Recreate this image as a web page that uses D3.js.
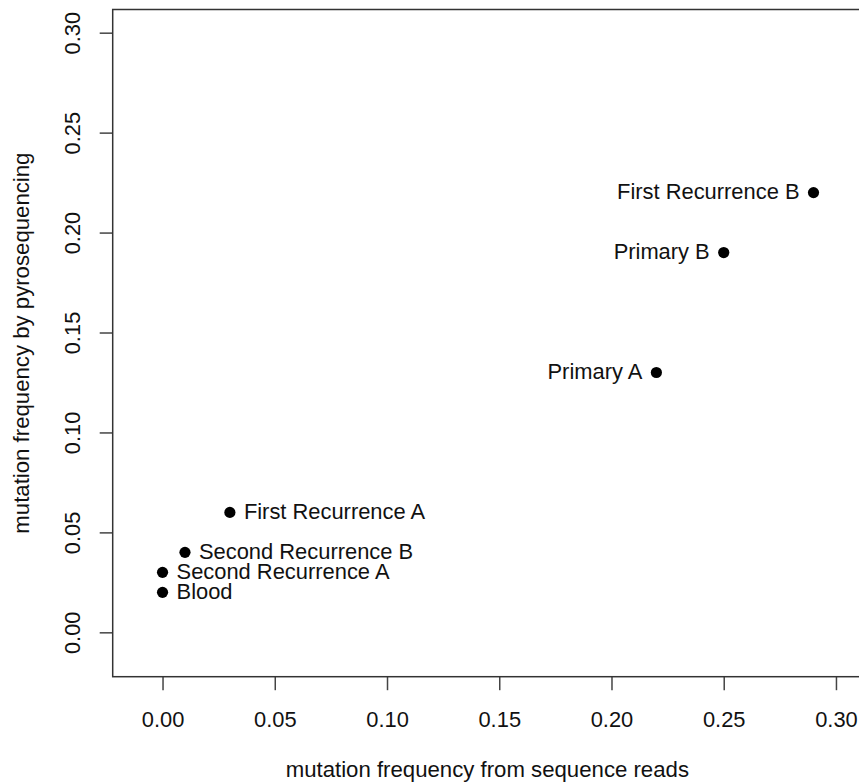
<!DOCTYPE html>
<html>
<head>
<meta charset="utf-8">
<script src="https://cdn.jsdelivr.net/npm/d3@7"></script>
<style>
  html, body { margin: 0; padding: 0; background: #fff; }
  svg { display: block; font-family: "Liberation Sans", Arial, Helvetica, sans-serif; }
</style>
</head>
<body>
<svg id="chart" width="859" height="783"></svg>
<script>
// Sample names, sequencing-read frequency (x) and pyrosequencing frequency (y)
const samples = ["Blood", "Second Recurrence A", "Second Recurrence B", "First Recurrence A",
                 "Primary A", "Primary B", "First Recurrence B"];
const seqReads = [0.00, 0.00, 0.01, 0.03, 0.22, 0.25, 0.29];
const pyroSeq  = [0.02, 0.03, 0.04, 0.06, 0.13, 0.19, 0.22];
// label placement: 4 = right of point, 2 = left of point
const labelSide = [4, 4, 4, 4, 2, 2, 2];

const xTicks = [0.00, 0.05, 0.10, 0.15, 0.20, 0.25, 0.30];
const yTicks = [0.00, 0.05, 0.10, 0.15, 0.20, 0.25, 0.30];
const xTitle = "mutation frequency from sequence reads";
const yTitle = "mutation frequency by pyrosequencing";

const svg = d3.select("#chart");
const box = { left: 112.7, right: 862, top: 9.5, bottom: 676.7 };
const fs = 21.9;

const x = d3.scaleLinear().domain([-0.0222, 0.3116]).range([box.left, box.right]);
const y = d3.scaleLinear().domain([-0.0222, 0.3116]).range([box.bottom, box.top]);

// x axis
const xAxis = d3.axisBottom(x).tickValues(xTicks).tickFormat(d3.format(".2f"))
  .tickSize(13.5).tickSizeOuter(0).tickPadding(21);
const gx = svg.append("g").attr("transform", `translate(0,${box.bottom})`).call(xAxis);
gx.select(".domain").remove();
gx.selectAll(".tick line").attr("stroke", "#444").attr("stroke-width", 1.5);
gx.selectAll(".tick text").attr("fill", "#111").style("font-size", fs + "px")
  .style("font-family", "Liberation Sans, Arial, sans-serif");

// y axis, labels rotated parallel to the axis
const yAxis = d3.axisLeft(y).tickValues(yTicks).tickFormat(d3.format(".2f"))
  .tickSize(13).tickSizeOuter(0);
const gy = svg.append("g").attr("transform", `translate(${box.left},0)`).call(yAxis);
gy.select(".domain").remove();
gy.selectAll(".tick line").attr("stroke", "#444").attr("stroke-width", 1.5);
gy.selectAll(".tick text")
  .attr("x", null).attr("dy", null)
  .attr("transform", "translate(-32.5,0) rotate(-90)")
  .attr("text-anchor", "middle")
  .attr("fill", "#111").style("font-size", fs + "px")
  .style("font-family", "Liberation Sans, Arial, sans-serif");

// plot frame
svg.append("rect")
  .attr("x", box.left).attr("y", box.top)
  .attr("width", box.right - box.left).attr("height", box.bottom - box.top)
  .attr("fill", "none").attr("stroke", "#333").attr("stroke-width", 1.5);

// points
const data = samples.map((s, i) => ({ name: s, sx: seqReads[i], py: pyroSeq[i], side: labelSide[i] }));
svg.append("g").selectAll("circle").data(data).join("circle")
  .attr("cx", d => x(d.sx)).attr("cy", d => y(d.py))
  .attr("r", 5.6).attr("fill", "#000");

// point labels
svg.append("g").selectAll("text").data(data).join("text")
  .attr("x", d => x(d.sx) + (d.side === 4 ? 14 : -14))
  .attr("y", d => y(d.py) + 6.8)
  .attr("text-anchor", d => d.side === 4 ? "start" : "end")
  .attr("fill", "#111").style("font-size", fs + "px")
  .text(d => d.name);

// axis titles
svg.append("text")
  .attr("x", (box.left + box.right) / 2).attr("y", 777)
  .attr("text-anchor", "middle").attr("fill", "#111").style("font-size", "22.2px")
  .text(xTitle);
svg.append("text")
  .attr("transform", `translate(28.5,${(box.top + box.bottom) / 2}) rotate(-90)`)
  .attr("text-anchor", "middle").attr("fill", "#111").style("font-size", "22.2px")
  .text(yTitle);
</script>
</body>
</html>
